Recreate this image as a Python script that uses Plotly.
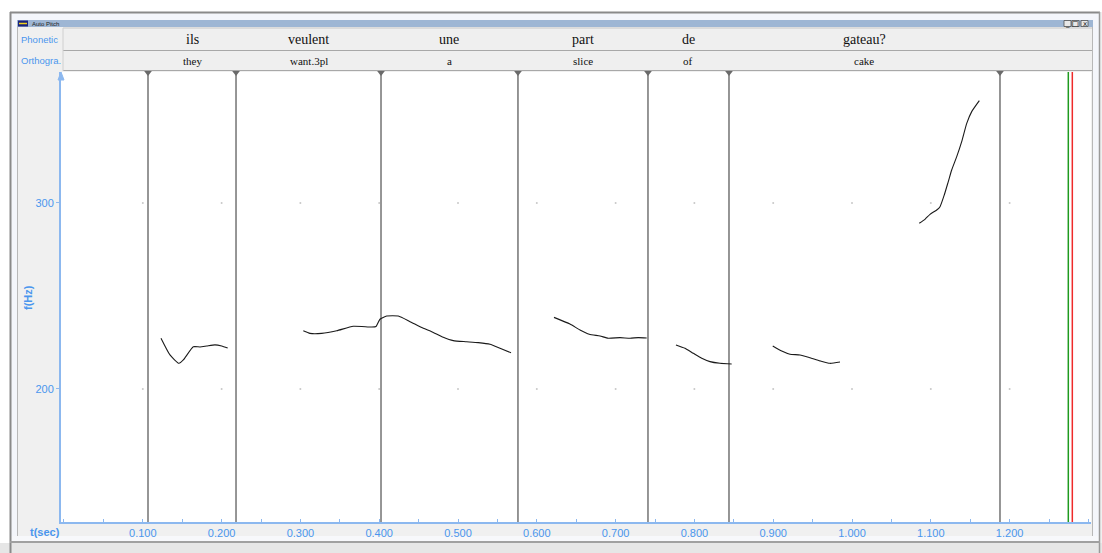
import plotly.graph_objects as go

# ---------------- data ----------------
boundaries = [0.1066, 0.2183, 0.4023, 0.5761, 0.7411, 0.8439, 1.1878]
phonetic = ["ils", "veulent", "une", "part", "de", "gateau?"]
gloss = ["they", "want.3pl", "a", "slice", "of", "cake"]

ils_t = [0.1231, 0.1345, 0.1459, 0.1514, 0.1641, 0.1726, 0.1811, 0.1916, 0.2001, 0.2077]
ils_f = [227.3, 218.3, 213.8, 215.6, 222.7, 222.6, 223.1, 223.7, 223.1, 222.0]

veulent_t = [0.3037, 0.3122, 0.3270, 0.3461, 0.3671, 0.3905, 0.3960, 0.4010, 0.4095, 0.4242,
             0.4391, 0.4560, 0.4666, 0.4813, 0.4940, 0.5110, 0.5258, 0.5406, 0.5533, 0.5673]
veulent_f = [231.3, 229.9, 229.9, 231.3, 233.7, 233.3, 233.6, 237.5, 239.2, 239.2,
             236.2, 232.6, 230.8, 227.8, 226.0, 225.4, 224.9, 224.0, 221.9, 219.5]

part_t = [0.6218, 0.6421, 0.6548, 0.6666, 0.6802, 0.6907, 0.7056, 0.7183, 0.7288, 0.7395]
part_f = [238.5, 234.9, 231.7, 229.4, 228.5, 227.3, 227.6, 227.3, 227.6, 227.4]

de_t = [0.7766, 0.7881, 0.7986, 0.8093, 0.8198, 0.8325, 0.8473]
de_f = [223.7, 221.9, 219.2, 216.5, 214.7, 213.8, 213.4]

gat1_t = [0.8994, 0.9108, 0.9213, 0.9340, 0.9467, 0.9594, 0.9721, 0.9848]
gat1_f = [223.1, 220.4, 218.7, 218.3, 216.8, 215.1, 213.8, 214.5]

gat2_t = [1.0854, 1.0926, 1.0990, 1.1075, 1.1117, 1.1171, 1.1222, 1.1265, 1.1329, 1.1392,
          1.1456, 1.1519, 1.1616]
gat2_f = [289.1, 291.2, 293.9, 296.2, 298.0, 304.3, 311.5, 317.7, 324.9, 333.0,
          342.8, 349.1, 355.0]

x_tickvals = [0.1, 0.2, 0.3, 0.4, 0.5, 0.6, 0.7, 0.8, 0.9, 1.0, 1.1, 1.2]
x_ticktext = ["0.100", "0.200", "0.300", "0.400", "0.500", "0.600",
              "0.700", "0.800", "0.900", "1.000", "1.100", "1.200"]
y_tickvals = [200, 300]
y_ticktext = ["200", "300"]

cursor_green = 1.2745
cursor_red = 1.2796

X_RANGE = [-0.0038, 1.3033]
Y_RANGE = [128.5, 370.4]

# ---------------- geometry helpers (pixel -> paper) ----------------
W, H = 1102, 553
L, R, T, B = 61, 11, 72, 31
PW, PH = W - L - R, H - T - B


def px(x):
    return (x - L) / PW


def py(y):
    return (H - B - y) / PH


BLUE = "#4a96ee"
AXBLUE = "#8cb8ef"

fig = go.Figure()

# grid dots
gx, gy = [], []
for yv in y_tickvals:
    for xv in x_tickvals:
        gx.append(xv)
        gy.append(yv)
fig.add_trace(go.Scatter(x=gx, y=gy, mode="markers",
                         marker=dict(size=2, color="#c8c8c8"), hoverinfo="skip"))

# boundary lines
for b in boundaries:
    fig.add_trace(go.Scatter(x=[b, b], y=Y_RANGE, mode="lines",
                             line=dict(color="#7c7c7c", width=1.6), hoverinfo="skip"))
fig.add_trace(go.Scatter(x=boundaries, y=[Y_RANGE[1]] * len(boundaries), mode="markers",
                         marker=dict(symbol="triangle-down", size=8, color="#6a6a6a"),
                         cliponaxis=False, hoverinfo="skip"))

# cursors
fig.add_trace(go.Scatter(x=[cursor_green, cursor_green], y=Y_RANGE, mode="lines",
                         line=dict(color="#1f9a1f", width=1.5), hoverinfo="skip"))
fig.add_trace(go.Scatter(x=[cursor_red, cursor_red], y=Y_RANGE, mode="lines",
                         line=dict(color="#ee2a2a", width=1.5), hoverinfo="skip"))

# pitch curves
for tt, ff in [(ils_t, ils_f), (veulent_t, veulent_f), (part_t, part_f),
               (de_t, de_f), (gat1_t, gat1_f), (gat2_t, gat2_f)]:
    fig.add_trace(go.Scatter(x=tt, y=ff, mode="lines",
                             line=dict(color="#1a1a1a", width=1.1, shape="spline", smoothing=0.5),
                             hoverinfo="skip"))

shapes = []
# white outside of window
shapes.append(dict(type="rect", xref="paper", yref="paper", x0=px(0), x1=px(W), y0=py(0), y1=py(12),
                   fillcolor="white", line=dict(width=0), layer="below"))
shapes.append(dict(type="rect", xref="paper", yref="paper", x0=px(0), x1=px(10), y0=py(0), y1=py(H),
                   fillcolor="white", line=dict(width=0), layer="below"))
# light window frame interior strips
shapes.append(dict(type="rect", xref="paper", yref="paper", x0=px(11), x1=px(17), y0=py(13), y1=py(541),
                   fillcolor="#f4f6fb", line=dict(width=0), layer="below"))
shapes.append(dict(type="rect", xref="paper", yref="paper", x0=px(11), x1=px(1099), y0=py(13), y1=py(20),
                   fillcolor="#f4f6fb", line=dict(width=0), layer="below"))
shapes.append(dict(type="rect", xref="paper", yref="paper", x0=px(1093), x1=px(1099), y0=py(13), y1=py(541),
                   fillcolor="#f4f6fb", line=dict(width=0), layer="below"))
shapes.append(dict(type="rect", xref="paper", yref="paper", x0=px(11), x1=px(1099), y0=py(536), y1=py(541),
                   fillcolor="#f7f8fb", line=dict(width=0), layer="below"))
# scrollbar strip
shapes.append(dict(type="rect", xref="paper", yref="paper", x0=px(0), x1=px(W), y0=py(543), y1=py(H),
                   fillcolor="#e6e6e6", line=dict(width=0), layer="below"))
# frame borders
shapes.append(dict(type="line", xref="paper", yref="paper", x0=px(10), x1=px(1100), y0=py(12.5), y1=py(12.5),
                   line=dict(color="#8a8a8a", width=2)))
shapes.append(dict(type="line", xref="paper", yref="paper", x0=px(10.5), x1=px(10.5), y0=py(12), y1=py(H),
                   line=dict(color="#8a8a8a", width=2)))
shapes.append(dict(type="line", xref="paper", yref="paper", x0=px(1099.5), x1=px(1099.5), y0=py(12), y1=py(H),
                   line=dict(color="#9a9a9a", width=1.5)))
shapes.append(dict(type="line", xref="paper", yref="paper", x0=px(10), x1=px(1100), y0=py(542), y1=py(542),
                   line=dict(color="#a0a0a0", width=2)))
shapes.append(dict(type="line", xref="paper", yref="paper", x0=px(17.5), x1=px(17.5), y0=py(20), y1=py(536),
                   line=dict(color="#b8b8b8", width=1)))
shapes.append(dict(type="line", xref="paper", yref="paper", x0=px(1092.5), x1=px(1092.5), y0=py(20), y1=py(536),
                   line=dict(color="#b8b8b8", width=1)))
# title bar
shapes.append(dict(type="rect", xref="paper", yref="paper", x0=px(17), x1=px(1093), y0=py(20), y1=py(27),
                   fillcolor="#9eb6d4", line=dict(width=0)))
shapes.append(dict(type="rect", xref="paper", yref="paper", x0=px(18), x1=px(28), y0=py(20.5), y1=py(26.5),
                   fillcolor="#1a237e", line=dict(width=0)))
shapes.append(dict(type="line", xref="paper", yref="paper", x0=px(19), x1=px(27), y0=py(23.5), y1=py(23.5),
                   line=dict(color="#f2d21b", width=1.5)))
for bx0 in [1064, 1072, 1081]:
    shapes.append(dict(type="rect", xref="paper", yref="paper", x0=px(bx0), x1=px(bx0 + 7), y0=py(20.5), y1=py(26.5),
                       fillcolor="#e8e8e8", line=dict(color="#505050", width=0.8)))
# tier area
shapes.append(dict(type="rect", xref="paper", yref="paper", x0=px(63), x1=px(1092), y0=py(28), y1=py(71),
                   fillcolor="#efefef", line=dict(width=0)))
shapes.append(dict(type="line", xref="paper", yref="paper", x0=px(63), x1=px(1092), y0=py(28), y1=py(28),
                   line=dict(color="#c8c8c8", width=1)))
shapes.append(dict(type="line", xref="paper", yref="paper", x0=px(63), x1=px(1092), y0=py(50.5), y1=py(50.5),
                   line=dict(color="#a8a8a8", width=1.2)))
shapes.append(dict(type="line", xref="paper", yref="paper", x0=px(63), x1=px(1092), y0=py(70.5), y1=py(70.5),
                   line=dict(color="#a8a8a8", width=1.2)))
shapes.append(dict(type="line", xref="paper", yref="paper", x0=px(63), x1=px(63), y0=py(28), y1=py(71),
                   line=dict(color="#d0d0d0", width=1)))
# y axis arrow
shapes.append(dict(type="path", xref="paper", yref="paper",
                   path=f"M {px(58)},{py(80)} L {px(61)},{py(72)} L {px(64)},{py(80)} Z",
                   fillcolor=AXBLUE, line=dict(color=AXBLUE, width=1)))

annotations = []
for i, (p, g) in enumerate(zip(phonetic, gloss)):
    xm = (boundaries[i] + boundaries[i + 1]) / 2
    annotations.append(dict(x=xm, xref="x", y=py(40), yref="paper", text=p, showarrow=False,
                            xanchor="center", yanchor="middle",
                            font=dict(family="Liberation Serif", size=14, color="#111111")))
    annotations.append(dict(x=xm, xref="x", y=py(61), yref="paper", text=g, showarrow=False,
                            xanchor="center", yanchor="middle",
                            font=dict(family="Liberation Serif", size=11, color="#111111")))

annotations += [
    dict(x=px(19), y=py(39), xref="paper", yref="paper", xanchor="left", yanchor="middle",
         text="Phonetic", showarrow=False,
         font=dict(family="Liberation Sans", size=9.5, color=BLUE)),
    dict(x=px(19), y=py(60), xref="paper", yref="paper", xanchor="left", yanchor="middle",
         text="Orthogra.", showarrow=False,
         font=dict(family="Liberation Sans", size=9.5, color=BLUE)),
    dict(x=px(30), y=py(23.5), xref="paper", yref="paper", xanchor="left", yanchor="middle",
         text="Auto Pitch", showarrow=False,
         font=dict(family="Liberation Sans", size=6, color="#202020")),
    dict(x=px(28), y=py(298), xref="paper", yref="paper", xanchor="center", yanchor="middle",
         text="<b>f(Hz)</b>", showarrow=False, textangle=-90,
         font=dict(family="Liberation Sans", size=11, color=BLUE)),
    dict(x=px(45), y=py(532), xref="paper", yref="paper", xanchor="center", yanchor="middle",
         text="<b>t(sec)</b>", showarrow=False,
         font=dict(family="Liberation Sans", size=11, color=BLUE)),
]
for bx0, glyph in [(1064, "_"), (1072, "□"), (1081, "x")]:
    annotations.append(dict(x=px(bx0 + 3.5), y=py(23.5), xref="paper", yref="paper", text=glyph,
                            xanchor="center", yanchor="middle",
                            showarrow=False, font=dict(family="DejaVu Sans", size=7, color="#202020")))

fig.update_layout(
    width=W, height=H,
    margin=dict(l=L, r=R, t=T, b=B, pad=0),
    paper_bgcolor="#f0f0f0",
    plot_bgcolor="white",
    showlegend=False,
    shapes=shapes,
    annotations=annotations,
    xaxis=dict(range=X_RANGE, showgrid=False, zeroline=False,
               showline=True, linecolor=AXBLUE, linewidth=2,
               tickvals=x_tickvals, ticktext=x_ticktext,
               ticks="inside", ticklen=3, tickcolor=AXBLUE, tickwidth=1,
               minor=dict(tick0=0, dtick=0.05, ticks="inside", ticklen=3, tickcolor=AXBLUE),
               tickfont=dict(family="Liberation Sans", size=11, color=BLUE)),
    yaxis=dict(range=Y_RANGE, showgrid=False, zeroline=False,
               showline=True, linecolor=AXBLUE, linewidth=2,
               tickvals=y_tickvals, ticktext=y_ticktext,
               ticks="outside", ticklen=3, tickcolor=AXBLUE,
               tickfont=dict(family="Liberation Sans", size=11, color=BLUE)),
)

fig.write_html("out.html", config={"displayModeBar": False},
               post_script="document.body.style.margin='0';document.body.style.overflow='hidden';")
